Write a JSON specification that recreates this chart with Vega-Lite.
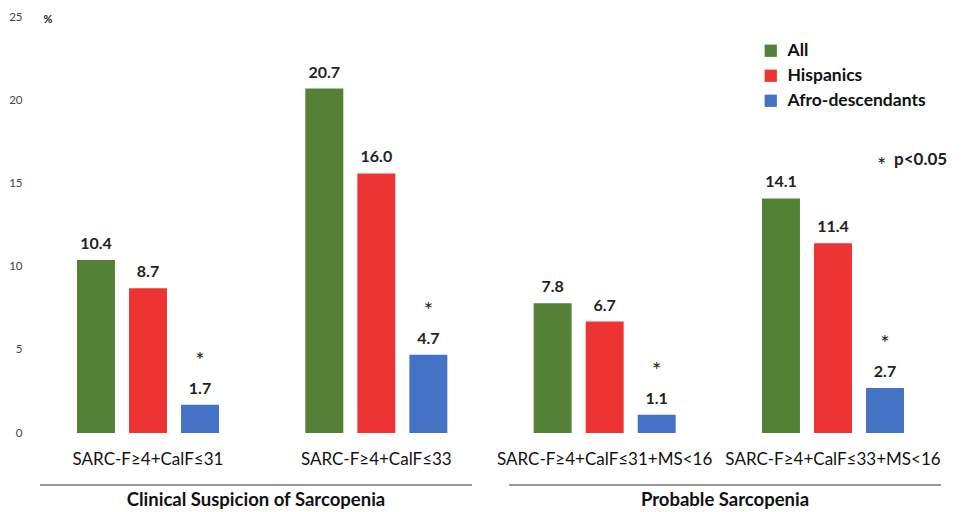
{
  "$schema": "https://vega.github.io/schema/vega-lite/v6.json",
  "width": 901,
  "height": 416,
  "autosize": {"type": "none"},
  "padding": {"left": 40, "top": 17, "right": 21, "bottom": 79},
  "background": "white",
  "config": {"view": {"stroke": null}, "font": "Lato"},
  "datasets": {
    "bars": [
      {"category": "SARC-F≥4+CalF≤31", "series": "All", "value": 10.4, "label": "10.4", "sig": ""},
      {"category": "SARC-F≥4+CalF≤31", "series": "Hispanics", "value": 8.7, "label": "8.7", "sig": ""},
      {"category": "SARC-F≥4+CalF≤31", "series": "Afro-descendants", "value": 1.7, "label": "1.7", "sig": "*"},
      {"category": "SARC-F≥4+CalF≤33", "series": "All", "value": 20.7, "label": "20.7", "sig": ""},
      {"category": "SARC-F≥4+CalF≤33", "series": "Hispanics", "value": 15.6, "label": "16.0", "sig": ""},
      {"category": "SARC-F≥4+CalF≤33", "series": "Afro-descendants", "value": 4.7, "label": "4.7", "sig": "*"},
      {"category": "SARC-F≥4+CalF≤31+MS<16", "series": "All", "value": 7.8, "label": "7.8", "sig": ""},
      {"category": "SARC-F≥4+CalF≤31+MS<16", "series": "Hispanics", "value": 6.7, "label": "6.7", "sig": ""},
      {"category": "SARC-F≥4+CalF≤31+MS<16", "series": "Afro-descendants", "value": 1.1, "label": "1.1", "sig": "*"},
      {"category": "SARC-F≥4+CalF≤33+MS<16", "series": "All", "value": 14.1, "label": "14.1", "sig": ""},
      {"category": "SARC-F≥4+CalF≤33+MS<16", "series": "Hispanics", "value": 11.4, "label": "11.4", "sig": ""},
      {"category": "SARC-F≥4+CalF≤33+MS<16", "series": "Afro-descendants", "value": 2.7, "label": "2.7", "sig": "*"}
    ],
    "groups": [
      {"group": "Clinical Suspicion of Sarcopenia"},
      {"group": "Probable Sarcopenia"}
    ],
    "note": [{"star": "*", "note": "p<0.05"}]
  },
  "resolve": {"scale": {"x": "independent"}},
  "layer": [
    {
      "layer": [
        {
          "data": {"name": "bars"},
          "mark": {"type": "bar"},
          "encoding": {
            "x": {
              "field": "category", "type": "nominal", "sort": null, "title": null,
              "scale": {"paddingInner": 0.378, "paddingOuter": 0.162},
              "axis": {"domain": false, "ticks": false, "labelAngle": 0, "labelFontSize": 17, "labelColor": "#111111", "labelPadding": 18, "labelLimit": 0, "labelFont": "Lato"}
            },
            "xOffset": {
              "field": "series", "type": "nominal", "sort": ["All", "Hispanics", "Afro-descendants"],
              "scale": {"paddingInner": 0.27, "paddingOuter": 0}
            },
            "y": {
              "field": "value", "type": "quantitative",
              "scale": {"domain": [0, 25], "nice": false},
              "axis": {"values": [0, 5, 10, 15, 20, 25], "grid": false, "domain": false, "ticks": false, "labelFontSize": 11.5, "labelColor": "#444444", "labelPadding": 18, "title": "%", "titleAngle": 0, "titleX": 3, "titleY": 2, "titleAlign": "left", "titleBaseline": "middle", "titleFontSize": 11, "titleFontWeight": "bold", "titleColor": "#222222"}
            },
            "color": {
              "field": "series", "type": "nominal", "sort": ["All", "Hispanics", "Afro-descendants"],
              "scale": {"domain": ["All", "Hispanics", "Afro-descendants"], "range": ["#538135", "#ee3333", "#4472c4"]},
              "legend": {"title": null, "orient": "none", "legendX": 722, "legendY": 25, "symbolType": "square", "symbolSize": 150, "symbolStrokeWidth": 0, "labelFontSize": 17.5, "labelFontWeight": "bold", "labelColor": "#111111", "rowPadding": 6, "labelOffset": 8}
            }
          }
        },
        {
          "data": {"name": "bars"},
          "mark": {"type": "text", "baseline": "middle", "dy": -16, "fontSize": 16, "fontWeight": "bold", "color": "#222222"},
          "encoding": {
            "x": {"field": "category", "type": "nominal", "sort": null},
            "xOffset": {"field": "series", "type": "nominal", "sort": ["All", "Hispanics", "Afro-descendants"]},
            "y": {"field": "value", "type": "quantitative"},
            "text": {"field": "label"}
          }
        },
        {
          "data": {"name": "bars"},
          "mark": {"type": "text", "baseline": "middle", "dy": -44, "fontSize": 22, "color": "#222222"},
          "encoding": {
            "x": {"field": "category", "type": "nominal", "sort": null},
            "xOffset": {"field": "series", "type": "nominal", "sort": ["All", "Hispanics", "Afro-descendants"]},
            "y": {"field": "value", "type": "quantitative"},
            "text": {"field": "sig"}
          }
        },
        {
          "data": {"name": "note"},
          "mark": {"type": "text", "baseline": "middle", "align": "left", "dx": -8, "dy": 6, "fontSize": 22, "color": "#222222"},
          "encoding": {
            "x": {"datum": "SARC-F≥4+CalF≤33+MS<16", "type": "nominal"},
            "xOffset": {"datum": "Afro-descendants", "type": "nominal"},
            "y": {"datum": 16.4, "type": "quantitative"},
            "text": {"field": "star"}
          }
        },
        {
          "data": {"name": "note"},
          "mark": {"type": "text", "baseline": "middle", "align": "left", "dx": 9, "fontSize": 17, "fontWeight": "bold", "color": "#222222"},
          "encoding": {
            "x": {"datum": "SARC-F≥4+CalF≤33+MS<16", "type": "nominal"},
            "xOffset": {"datum": "Afro-descendants", "type": "nominal"},
            "y": {"datum": 16.4, "type": "quantitative"},
            "text": {"field": "note"}
          }
        }
      ]
    },
    {
      "data": {"name": "groups"},
      "layer": [
        {
          "mark": {"type": "bar", "color": "#333333"},
          "encoding": {
            "x": {"field": "group", "type": "nominal", "sort": null, "axis": null, "scale": {"paddingInner": 0.079, "paddingOuter": 0}},
            "y": {"datum": -3.1, "type": "quantitative"},
            "y2": {"datum": -3.16}
          }
        },
        {
          "mark": {"type": "text", "baseline": "middle", "fontSize": 18.5, "fontWeight": "bold", "color": "#111111"},
          "encoding": {
            "x": {"field": "group", "type": "nominal", "sort": null},
            "y": {"datum": -4.0, "type": "quantitative"},
            "text": {"field": "group"}
          }
        }
      ]
    }
  ]
}
